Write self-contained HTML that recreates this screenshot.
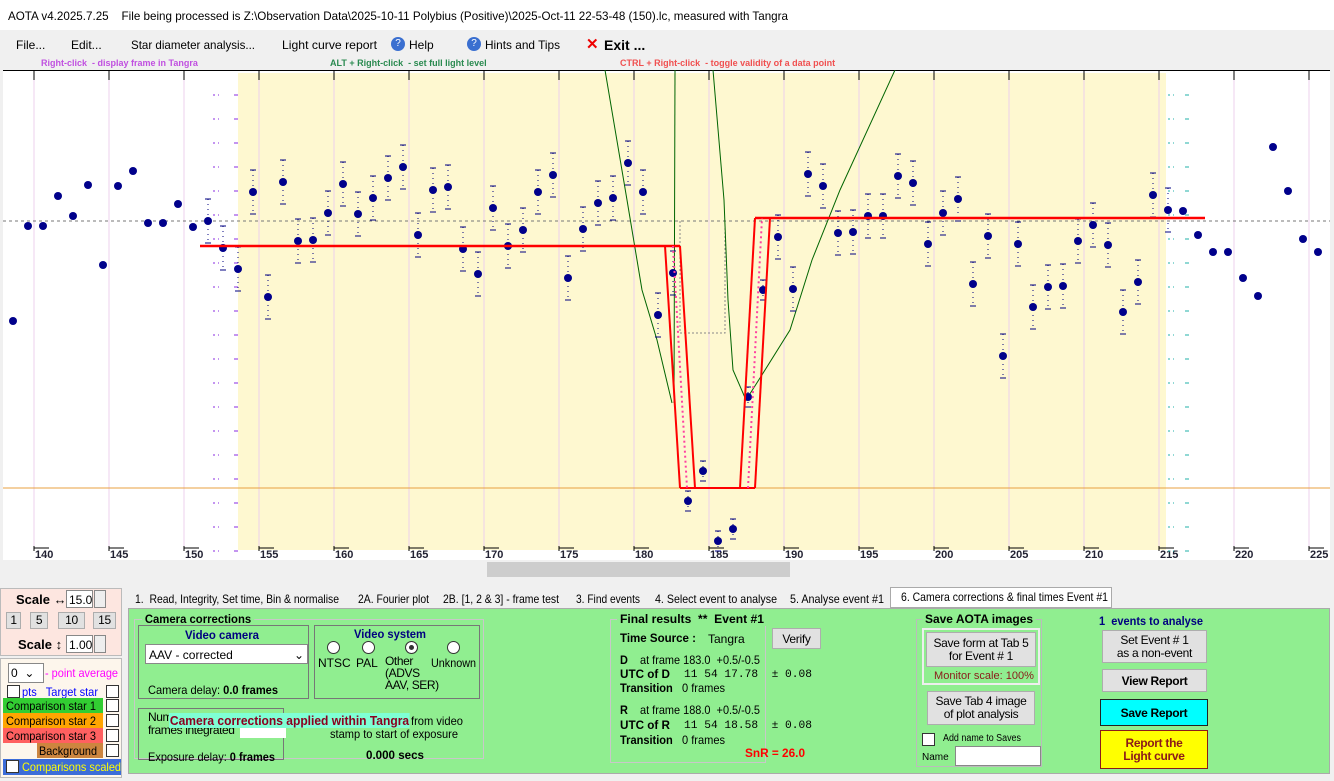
<!DOCTYPE html>
<html><head><meta charset="utf-8"><style>
*{margin:0;padding:0;box-sizing:border-box}
body{width:1334px;height:781px;overflow:hidden;background:#f0f0f0;font-family:"Liberation Sans",sans-serif;font-size:12px;position:relative;color:#000}
.a{position:absolute;white-space:nowrap}
.fit{transform-origin:0 0;overflow:visible}
.btn{position:absolute;background:#e1e1e1;border:1px solid #adadad;text-align:center;font-size:12px;letter-spacing:-0.3px}
.grp{position:absolute;border:1px solid #c8c8c8}
.b{font-weight:bold}
</style></head><body>
<div class="a" style="left:0;top:0;width:1334px;height:30px;background:#fff"></div>
<div class="a fit" style="left:8px;top:9px;font-size:12px" w="780">AOTA v4.2025.7.25&nbsp;&nbsp;&nbsp;&nbsp;File being processed is Z:\Observation Data\2025-10-11 Polybius (Positive)\2025-Oct-11 22-53-48 (150).lc, measured with Tangra</div>
<div class="a" style="left:16px;top:38px">File...</div>
<div class="a" style="left:71px;top:38px">Edit...</div>
<div class="a fit" style="left:131px;top:38px" w="124">Star diameter analysis...</div>
<div class="a fit" style="left:282px;top:38px" w="95">Light curve report</div>
<div class="a" style="left:391px;top:37px;width:14px;height:14px;border-radius:7px;background:#3a6fd0;color:#fff;font-size:10px;text-align:center;line-height:14px">?</div>
<div class="a" style="left:409px;top:38px">Help</div>
<div class="a" style="left:467px;top:37px;width:14px;height:14px;border-radius:7px;background:#3a6fd0;color:#fff;font-size:10px;text-align:center;line-height:14px">?</div>
<div class="a fit" style="left:485px;top:38px" w="75">Hints and Tips</div>
<div class="a" style="left:586px;top:35px;color:#e00;font-size:15px;font-weight:bold">✕</div>
<div class="a b" style="left:604px;top:37px;font-size:14px">Exit ...</div>
<div class="a b" style="left:41px;top:58px;font-size:9px;color:#c050e0">Right-click&nbsp; - display frame in Tangra</div>
<div class="a b" style="left:330px;top:58px;font-size:9px;color:#2a8a50">ALT + Right-click&nbsp; - set full light level</div>
<div class="a b" style="left:620px;top:58px;font-size:9px;color:#f05050">CTRL + Right-click&nbsp; - toggle validity of a data point</div>
<svg class="a" style="left:0;top:70px" width="1334" height="510" id="ch"></svg>
<!-- bottom -->
<div class="a" style="left:0;top:588px;width:122px;height:68px;background:#fde6e0;border:1px solid #bbb"></div>
<div class="a b" style="left:16px;top:592px;font-size:13px">Scale ↔</div>
<div class="a" style="left:66px;top:590px;width:27px;height:18px;background:#fff;border:1px solid #888;padding:2px">15.0</div>
<div class="a" style="left:94px;top:590px;width:12px;height:18px;background:#eee;border:1px solid #888"></div>
<div class="btn" style="left:6px;top:612px;width:15px;height:17px">1</div>
<div class="btn" style="left:30px;top:612px;width:18px;height:17px">5</div>
<div class="btn" style="left:58px;top:612px;width:27px;height:17px">10</div>
<div class="btn" style="left:93px;top:612px;width:23px;height:17px">15</div>
<div class="a b" style="left:18px;top:637px;font-size:13px">Scale ↕</div>
<div class="a" style="left:66px;top:635px;width:27px;height:18px;background:#fff;border:1px solid #888;padding:2px">1.00</div>
<div class="a" style="left:94px;top:635px;width:12px;height:18px;background:#eee;border:1px solid #888"></div>
<div class="a" style="left:0;top:658px;width:122px;height:120px;background:#fdf6ec;border:1px solid #bbb"></div>
<div class="a" style="left:8px;top:663px;width:36px;height:20px;background:#fff;border:1px solid #888;padding:2px">0 &nbsp;⌄</div>
<div class="a fit" style="left:45px;top:666px;color:#f0f" w="73">- point average</div>
<div class="a fit" style="left:22px;top:685px;color:#00f" w="76">pts&nbsp;&nbsp; Target star</div>
<div class="a" style="left:7px;top:685px;width:13px;height:13px;border:1px solid #333;background:#fff"></div>
<div class="a" style="left:106px;top:685px;width:13px;height:13px;border:1px solid #333;background:#fff"></div>
<div class="a" style="left:3px;top:698px;width:100px;height:15px;background:#32cd32"></div>
<div class="a" style="left:3px;top:713px;width:100px;height:15px;background:#ffa500"></div>
<div class="a" style="left:3px;top:728px;width:100px;height:15px;background:#ff6060"></div>
<div class="a" style="left:37px;top:743px;width:66px;height:15px;background:#cd853f"></div>
<div class="a fit" style="left:6px;top:699px" w="90">Comparison star 1</div>
<div class="a fit" style="left:6px;top:714px" w="90">Comparison star 2</div>
<div class="a fit" style="left:6px;top:729px" w="90">Comparison star 3</div>
<div class="a fit" style="left:39px;top:744px" w="58">Background</div>
<div class="a" style="left:106px;top:699px;width:13px;height:13px;border:1px solid #333;background:#fff"></div>
<div class="a" style="left:106px;top:714px;width:13px;height:13px;border:1px solid #333;background:#fff"></div>
<div class="a" style="left:106px;top:729px;width:13px;height:13px;border:1px solid #333;background:#fff"></div>
<div class="a" style="left:106px;top:744px;width:13px;height:13px;border:1px solid #333;background:#fff"></div>
<div class="a" style="left:3px;top:759px;width:118px;height:16px;background:#3c6cd8;overflow:hidden"></div>
<div class="a fit" style="left:22px;top:760px;color:#ff0" w="99">Comparisons scaled</div>
<div class="a" style="left:6px;top:760px;width:13px;height:13px;border:1px solid #333;background:#fff"></div>
<!-- tabs -->
<div class="a fit" style="left:135px;top:592px" w="204">1.&nbsp; Read, Integrity, Set time, Bin &amp; normalise</div>
<div class="a fit" style="left:358px;top:592px" w="71">2A. Fourier plot</div>
<div class="a fit" style="left:443px;top:592px" w="116">2B. [1, 2 &amp; 3] - frame test</div>
<div class="a fit" style="left:576px;top:592px" w="64">3. Find events</div>
<div class="a fit" style="left:655px;top:592px" w="122">4. Select event to analyse</div>
<div class="a fit" style="left:790px;top:592px" w="94">5. Analyse event #1</div>
<div class="a" style="left:890px;top:587px;width:222px;height:21px;background:#fff;border:1px solid #aaa"></div>
<div class="a fit" style="left:901px;top:590px" w="207">6. Camera corrections &amp; final times Event #1</div>
<div class="a" style="left:128px;top:608px;width:1202px;height:166px;background:#90ee90;border:1px solid #aaa"></div>
<div class="grp" style="left:134px;top:619px;width:350px;height:140px"></div>
<div class="a b fit" style="left:142px;top:612px;background:#90ee90;padding:0 3px" w="112">Camera corrections</div>
<div class="grp" style="left:138px;top:625px;width:171px;height:74px;border-color:#777"></div>
<div class="a b fit" style="left:185px;top:628px;color:#000080" w="74">Video camera</div>
<div class="a" style="left:145px;top:644px;width:163px;height:20px;background:#fff;border:1px solid #888;padding:3px">AAV - corrected<span style="float:right">⌄</span></div>
<div class="a fit" style="left:148px;top:683px" w="130">Camera delay: <b>0.0 frames</b></div>
<div class="grp" style="left:314px;top:625px;width:166px;height:74px;border-color:#777"></div>
<div class="a b fit" style="left:354px;top:627px;color:#000080" w="72">Video system</div>
<div class="a" style="left:327px;top:641px;width:13px;height:13px;border-radius:7px;background:#fff;border:1px solid #333"></div>
<div class="a" style="left:362px;top:641px;width:13px;height:13px;border-radius:7px;background:#fff;border:1px solid #333"></div>
<div class="a" style="left:405px;top:641px;width:13px;height:13px;border-radius:7px;background:#333;border:1px solid #333;box-shadow:inset 0 0 0 3px #fff"></div>
<div class="a" style="left:447px;top:641px;width:13px;height:13px;border-radius:7px;background:#fff;border:1px solid #333"></div>
<div class="a" style="left:318px;top:656px">NTSC</div>
<div class="a" style="left:356px;top:656px">PAL</div>
<div class="a" style="left:385px;top:655px;line-height:12px;letter-spacing:-0.4px">Other<br>(ADVS<br>AAV, SER)</div>
<div class="a fit" style="left:431px;top:656px" w="45">Unknown</div>
<div class="grp" style="left:138px;top:708px;width:146px;height:52px;border-color:#777"></div>
<div class="a" style="left:148px;top:711px;line-height:13px;letter-spacing:-0.4px">Num<br>frames integrated</div>
<div class="a" style="left:240px;top:725px;width:46px;height:13px;background:#fff"></div>
<div class="a fit" style="left:411px;top:714px" w="52">from video</div>
<div class="a fit" style="left:330px;top:727px" w="128">stamp to start of exposure</div>
<div class="a b fit" style="left:169px;top:713px;background:#7fffd4;color:#8b0020;font-size:13px;padding:0 1px" w="241">Camera corrections applied within Tangra</div>
<div class="a b fit" style="left:366px;top:748px" w="58">0.000 secs</div>
<div class="a fit" style="left:148px;top:750px" w="127">Exposure delay: <b>0 frames</b></div>
<div class="grp" style="left:610px;top:619px;width:156px;height:144px"></div>
<div class="a b fit" style="left:617px;top:612px;background:#90ee90;padding:0 3px" w="150">Final results&nbsp; **&nbsp; Event #1</div>
<div class="a b fit" style="left:620px;top:631px" w="76">Time Source :</div>
<div class="a" style="left:708px;top:632px">Tangra</div>
<div class="btn" style="left:772px;top:628px;width:49px;height:21px;padding-top:3px">Verify</div>
<div class="a fit" style="left:620px;top:653px" w="140"><b>D</b>&nbsp;&nbsp;&nbsp; at frame 183.0&nbsp; +0.5/-0.5</div>
<div class="a b fit" style="left:620px;top:667px" w="50">UTC of D</div>
<div class="a fit" style="left:684px;top:669px;font-family:'Liberation Mono',monospace;font-size:11px" w="128">11 54 17.78&nbsp; ± 0.08</div>
<div class="a fit" style="left:620px;top:681px" w="105"><b>Transition</b>&nbsp;&nbsp; 0 frames</div>
<div class="a fit" style="left:620px;top:703px" w="140"><b>R</b>&nbsp;&nbsp;&nbsp; at frame 188.0&nbsp; +0.5/-0.5</div>
<div class="a b fit" style="left:620px;top:718px" w="50">UTC of R</div>
<div class="a fit" style="left:684px;top:720px;font-family:'Liberation Mono',monospace;font-size:11px" w="128">11 54 18.58&nbsp; ± 0.08</div>
<div class="a fit" style="left:620px;top:733px" w="105"><b>Transition</b>&nbsp;&nbsp; 0 frames</div>
<div class="a b fit" style="left:745px;top:746px;color:#f00" w="60">SnR = 26.0</div>
<div class="grp" style="left:916px;top:619px;width:126px;height:148px;border-color:#bbb"></div>
<div class="a b fit" style="left:922px;top:612px;background:#90ee90;padding:0 3px" w="114">Save AOTA images</div>
<div class="a" style="left:922px;top:628px;width:118px;height:57px;border:2px solid #eee"></div>
<div class="btn" style="left:926px;top:632px;width:110px;height:35px;line-height:13px;padding-top:4px">Save form at Tab 5<br>for Event # 1</div>
<div class="a fit" style="left:934px;top:670px;color:#8b1a1a;font-size:11px" w="100">Monitor scale: 100%</div>
<div class="btn" style="left:927px;top:691px;width:108px;height:34px;line-height:13px;padding-top:3px">Save Tab 4 image<br>of plot analysis</div>
<div class="a" style="left:922px;top:733px;width:13px;height:13px;border:1px solid #333;background:#fff"></div>
<div class="a fit" style="left:943px;top:733px;font-size:10px" w="78">Add name to Saves</div>
<div class="a" style="left:922px;top:752px;font-size:10px">Name</div>
<div class="a" style="left:955px;top:746px;width:86px;height:20px;background:#fff;border:1px solid #888"></div>
<div class="a b fit" style="left:1099px;top:614px;color:#000080" w="104">1&nbsp; events to analyse</div>
<div class="btn" style="left:1102px;top:630px;width:105px;height:33px;line-height:13px;padding-top:3px">Set Event # 1<br>as a non-event</div>
<div class="btn b" style="left:1102px;top:669px;width:105px;height:23px;padding-top:4px">View Report</div>
<div class="btn b" style="left:1100px;top:699px;width:108px;height:27px;padding-top:6px;background:#00ffff;border-color:#222">Save Report</div>
<div class="btn b" style="left:1100px;top:730px;width:108px;height:39px;line-height:13px;padding-top:6px;background:#ffff00;border-color:#8b1a1a;color:#8b1a1a">Report the<br>Light curve</div>
<script>
document.querySelectorAll('.fit').forEach(el=>{const w=+el.getAttribute('w');const r=el.getBoundingClientRect().width;if(w&&r)el.style.transform='scaleX('+(w/r)+')';});
const s=document.getElementById('ch');const N='http://www.w3.org/2000/svg';
function e(t,a){const x=document.createElementNS(N,t);for(const k in a)x.setAttribute(k,a[k]);s.appendChild(x);return x}
const Y=v=>v-70;
e('rect',{x:3,y:0,width:1327,height:490,fill:'#fff'});
e('rect',{x:238,y:3,width:928,height:477,fill:'#fef8d0'});
e('line',{x1:3,y1:0.5,x2:1330,y2:0.5,stroke:'#000'});
for(let f=140;f<=225;f+=5){const x=34+(f-140)*15;e('line',{x1:x,y1:1,x2:x,y2:480,stroke:'#ecd0ec'});e('line',{x1:x,y1:1,x2:x,y2:10,stroke:'#000'});
e('line',{x1:x,y1:Y(546),x2:x,y2:Y(551),stroke:'#000'});e('line',{x1:x,y1:Y(548),x2:x+15,y2:Y(548),stroke:'#000'});
const t=e('text',{x:x+1,y:Y(558),'font-size':11,'font-weight':'bold','font-family':'Liberation Sans',fill:'#223'});t.textContent=f;}
for(let y=95;y<560;y+=24){e('line',{x1:213,y1:Y(y),x2:219,y2:Y(y),stroke:'#8a2be2','stroke-dasharray':'2,3'});e('line',{x1:234,y1:Y(y),x2:238,y2:Y(y),stroke:'#8a2be2'});
e('line',{x1:1168,y1:Y(y),x2:1174,y2:Y(y),stroke:'#20b2aa','stroke-dasharray':'2,3'});e('line',{x1:1185,y1:Y(y),x2:1189,y2:Y(y),stroke:'#20b2aa'});}
e('line',{x1:3,y1:Y(221),x2:1330,y2:Y(221),stroke:'#777','stroke-dasharray':'3,3'});
e('line',{x1:3,y1:Y(488),x2:1330,y2:Y(488),stroke:'#e8a040'});
e('polyline',{points:[680,Y(221),680,Y(333),725,Y(333),725,Y(221)].join(' '),fill:'none',stroke:'#888','stroke-dasharray':'2,2'});
e('polyline',{points:`605,0 627,${Y(200)} 642,${Y(290)} 657,${Y(340)} 672,${Y(403)}`,fill:'none',stroke:'#006400'});
e('polyline',{points:`675,0 674,${Y(403)}`,fill:'none',stroke:'#006400'});
e('polyline',{points:`713,0 724,${Y(200)} 728,${Y(300)} 733,${Y(370)} 746,${Y(400)} 760,${Y(378)} 790,${Y(330)} 812,${Y(260)} 840,${Y(190)} 895,0`,fill:'none',stroke:'#006400'});
const d=[321,226,226,196,216,185,265,186,171,223,223,204,227,221,248,269,192,297,182,241,240,213,184,214,198,178,167,235,190,187,249,274,208,246,230,192,175,278,229,203,198,163,192,315,273,501,471,541,529,397,290,237,289,174,186,233,232,216,216,176,183,244,213,199,284,236,356,244,307,287,286,241,225,245,312,282,195,210,211,235,252,252,278,296,147,191,239,252];
d.forEach((v,i)=>{const f=138+i,x=13+i*15;if(f>=151&&f<=215){const h=(f>=183&&f<=188)?10:22;
e('line',{x1:x,y1:Y(v-h),x2:x,y2:Y(v+h),stroke:'#000080','stroke-dasharray':'1,4'});
e('line',{x1:x-3,y1:Y(v-h),x2:x+3,y2:Y(v-h),stroke:'#000080'});e('line',{x1:x-3,y1:Y(v+h),x2:x+3,y2:Y(v+h),stroke:'#000080'});}
e('circle',{cx:x,cy:Y(v),r:4,fill:'#00008b'});});
const R='#f00';
e('line',{x1:200,y1:Y(246),x2:680,y2:Y(246),stroke:R,'stroke-width':2.5});
e('line',{x1:755,y1:Y(218),x2:1205,y2:Y(218),stroke:R,'stroke-width':2.5});
e('line',{x1:680,y1:Y(488),x2:755,y2:Y(488),stroke:R,'stroke-width':2});
e('line',{x1:665,y1:Y(246),x2:680,y2:Y(488),stroke:R,'stroke-width':2});
e('line',{x1:680,y1:Y(246),x2:695,y2:Y(488),stroke:R,'stroke-width':2});
e('line',{x1:673,y1:Y(246),x2:687,y2:Y(488),stroke:'#ff40a0','stroke-width':2,'stroke-dasharray':'2,3'});
e('line',{x1:740,y1:Y(488),x2:755,y2:Y(218),stroke:R,'stroke-width':2});
e('line',{x1:755,y1:Y(488),x2:770,y2:Y(218),stroke:R,'stroke-width':2});
e('line',{x1:748,y1:Y(488),x2:762,y2:Y(218),stroke:'#ff40a0','stroke-width':2,'stroke-dasharray':'2,3'});
e('rect',{x:3,y:Y(561),width:1327,height:17,fill:'#f0f0f0'});
e('rect',{x:487,y:Y(562),width:303,height:15,fill:'#cdcdcd'});
</script>
</body></html>
